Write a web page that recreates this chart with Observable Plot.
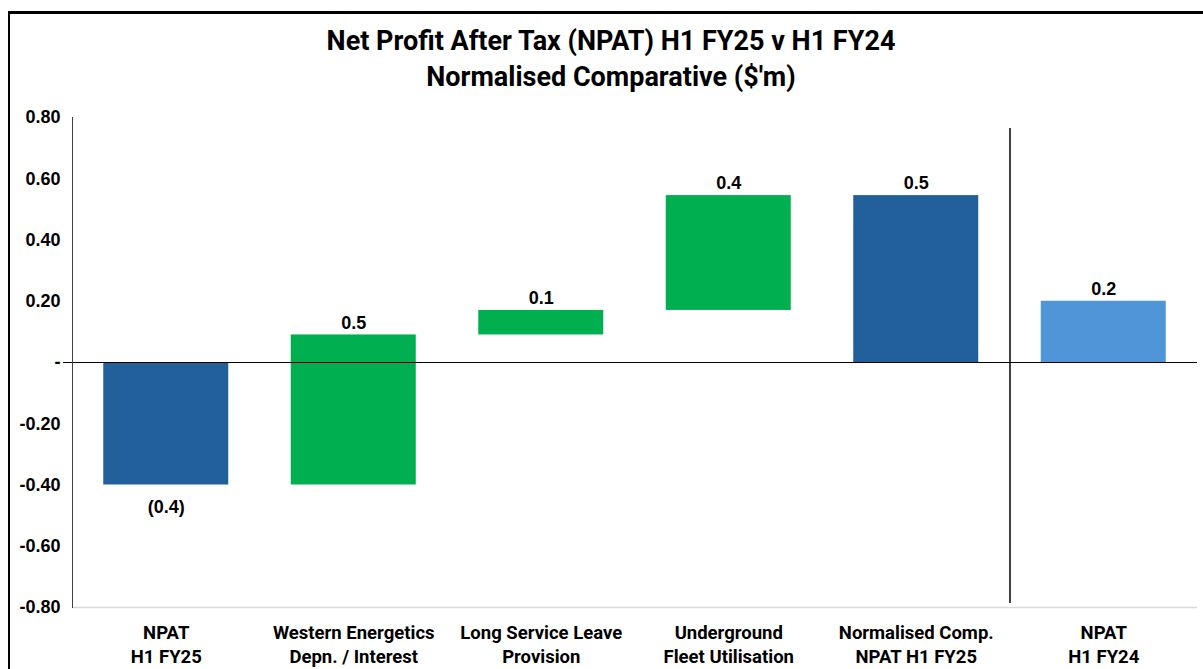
<!DOCTYPE html>
<html><head><meta charset="utf-8">
<script src="https://cdn.jsdelivr.net/npm/d3@7"></script>
<script src="https://cdn.jsdelivr.net/npm/@observablehq/plot@0.6"></script>
<style>
body{margin:0;background:#fff;overflow:hidden;width:1203px;height:669px;position:relative}
#frame{position:absolute;left:8px;top:11px;width:1400px;height:800px;border-left:2px solid #000;border-top:3px solid #000;pointer-events:none}
#title{height:105px;box-sizing:border-box;padding-top:23px;padding-left:19px;text-align:center;font:bold 27px "Liberation Sans Narrow",Roboto,sans-serif;line-height:36px;color:#000}
#chart svg{display:block}
</style></head><body>
<div id="frame"></div>
<div id="title">Net Profit After Tax (NPAT) H1 FY25 v H1 FY24<br>Normalised Comparative ($'m)</div>
<div id="chart"></div>
<script>
const categories = ["NPAT\nH1 FY25","Western Energetics\nDepn. / Interest","Long Service Leave\nProvision","Underground\nFleet Utilisation","Normalised Comp.\nNPAT H1 FY25","NPAT\nH1 FY24"];
const values = [-0.40, 0.49, 0.08, 0.375, 0.545, 0.20];
const kinds = ["total","delta","delta","delta","total","prior"];
const yTicks = [-0.8,-0.6,-0.4,-0.2,0,0.2,0.4,0.6,0.8];
const colors = {total:"#22609C", delta:"#00B050", prior:"#4F96D9"};

let running = 0;
const rows = categories.map((c, i) => {
  const v = values[i], k = kinds[i];
  let y1, y2;
  if (k === "delta") { y1 = running; y2 = running + v; running = y2; }
  else { y1 = 0; y2 = v; if (k === "total") running = v; }
  return {i, c, v, k, y1, y2, top: Math.max(y1, y2), bottom: Math.min(y1, y2),
    label: v < 0 ? `(${Math.abs(v).toFixed(1)})` : v.toFixed(1)};
});
const dividerAt = (categories.length - 2) + 0.5;
const lab = {fontFamily:"'Liberation Sans', Arial, sans-serif", fontWeight:"bold", fontSize:18, fill:"#000"};
const catFont = {fontFamily:"'Liberation Sans Narrow', Roboto, sans-serif", fontWeight:"bold", fontSize:18.5, fill:"#000"};

const chart = Plot.plot({
  width: 1203, height: 564,
  marginTop: 12, marginBottom: 62, marginLeft: 72, marginRight: 6,
  x: {domain: [-0.5, categories.length - 0.5]},
  y: {domain: [-0.8, 0.8]},
  marks: [
    Plot.ruleY([-0.8], {stroke:"#d9d9d9", strokeWidth:1.5}),
    Plot.rectY(rows, {x1: d => d.i - 1/3, x2: d => d.i + 1/3, y1: "y1", y2: "y2", fill: d => colors[d.k]}),
    Plot.ruleY([0], {stroke:"#000", strokeWidth:1.2, insetLeft:-9, insetRight: 0}),
    Plot.frame({anchor:"left", stroke:"#404040"}),
    Plot.ruleX([dividerAt], {stroke:"#000", strokeWidth:1.5, insetTop:11, insetBottom:4}),
    Plot.text(rows.filter(d => d.v >= 0), {x:"i", y:"top", text:"label", dy:-12, ...lab}),
    Plot.text(rows.filter(d => d.v < 0), {x:"i", y:"bottom", text:"label", dy:22, ...lab}),
    Plot.axisY({ticks: yTicks, tickSize:0, tickPadding:12, label:null, tickFormat: d => d === 0 ? "-" : d.toFixed(2), ...lab}),
    Plot.axisX({ticks: d3.range(categories.length), tickSize:0, tickPadding:14, label:null, tickFormat: i => categories[i], lineHeight:1.3, ...catFont})
  ]
});
document.getElementById("chart").append(chart);
</script>
</body></html>
